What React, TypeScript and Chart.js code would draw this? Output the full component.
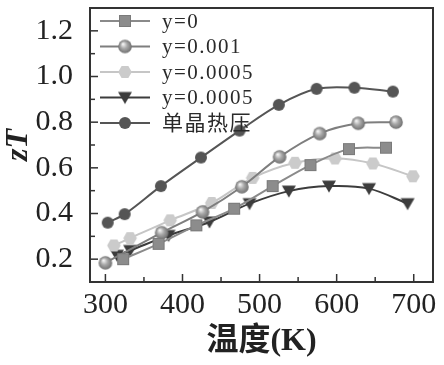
import React, { useEffect, useRef } from "react";
import { Chart, registerables } from "chart.js";

Chart.register(...registerables);

const seriesNames = ["y=0", "y=0.001", "y=0.0005", "y=0.0005", "单晶热压"];

const tempY0 = [323, 369, 418, 467, 517, 566, 616, 664];
const ztY0 = [0.2, 0.267, 0.348, 0.421, 0.52, 0.612, 0.682, 0.688];

const tempY001 = [300, 373, 426, 477, 526, 578, 628, 677];
const ztY001 = [0.184, 0.316, 0.407, 0.517, 0.648, 0.75, 0.795, 0.8];

const tempY0005a = [311, 332, 384, 438, 491, 546, 598, 647, 699];
const ztY0005a = [0.26, 0.292, 0.37, 0.446, 0.556, 0.622, 0.641, 0.619, 0.563];

const tempY0005b = [315, 332, 382, 435, 487, 538, 590, 642, 692];
const ztY0005b = [0.217, 0.238, 0.304, 0.363, 0.443, 0.498, 0.52, 0.509, 0.443];

const tempSingle = [303, 325, 372, 424, 474, 525, 574, 623, 673];
const ztSingle = [0.36, 0.397, 0.52, 0.645, 0.763, 0.876, 0.946, 0.951, 0.934];

const xTicks = [300, 400, 500, 600, 700];
const xMinorTicks = [350, 450, 550, 650];
const yTicks = [0.2, 0.4, 0.6, 0.8, 1.0, 1.2];
const yMinorTicks = [0.3, 0.5, 0.7, 0.9, 1.1];

function makeCanvas(size: number, draw: (ctx: CanvasRenderingContext2D, c: number) => void) {
  const cv = document.createElement("canvas");
  cv.width = size;
  cv.height = size;
  const ctx = cv.getContext("2d")!;
  draw(ctx, size / 2);
  return cv;
}

function buildMarkers() {
  const square = makeCanvas(14, (ctx, c) => {
    ctx.fillStyle = "#8c8c8c";
    ctx.strokeStyle = "#7a7a7a";
    ctx.lineWidth = 1;
    ctx.fillRect(c - 5.5, c - 5.5, 11, 11);
    ctx.strokeRect(c - 5.5, c - 5.5, 11, 11);
  });
  const sphere = makeCanvas(16, (ctx, c) => {
    const g = ctx.createRadialGradient(c - 2, c - 2.5, 0.5, c, c, 7);
    g.addColorStop(0, "#f2f2f2");
    g.addColorStop(0.45, "#a8a8a8");
    g.addColorStop(1, "#6e6e6e");
    ctx.fillStyle = g;
    ctx.beginPath();
    ctx.arc(c, c, 6.8, 0, Math.PI * 2);
    ctx.fill();
  });
  const hexagon = makeCanvas(16, (ctx, c) => {
    ctx.fillStyle = "#cbcbcb";
    ctx.beginPath();
    for (let i = 0; i < 6; i++) {
      const a = (Math.PI / 3) * i;
      const px = c + 6.8 * Math.cos(a);
      const py = c + 6.8 * Math.sin(a);
      if (i === 0) ctx.moveTo(px, py);
      else ctx.lineTo(px, py);
    }
    ctx.closePath();
    ctx.fill();
  });
  const triangle = makeCanvas(16, (ctx, c) => {
    ctx.fillStyle = "#3c3c3c";
    ctx.beginPath();
    ctx.moveTo(c - 7, c - 5.5);
    ctx.lineTo(c + 7, c - 5.5);
    ctx.lineTo(c, c + 6.5);
    ctx.closePath();
    ctx.fill();
  });
  const circle = makeCanvas(14, (ctx, c) => {
    ctx.fillStyle = "#555555";
    ctx.beginPath();
    ctx.arc(c, c, 6, 0, Math.PI * 2);
    ctx.fill();
  });
  return [square, sphere, hexagon, triangle, circle];
}

function pts(xs: number[], ys: number[]) {
  return xs.map((x, i) => ({ x, y: ys[i] }));
}

export default function App() {
  const ref = useRef<HTMLCanvasElement | null>(null);

  useEffect(() => {
    if (!ref.current) return;
    const markers = buildMarkers();
    const lineColors = ["#8a8a8a", "#7e7e7e", "#c6c6c6", "#3c3c3c", "#555555"];
    const data = [
      pts(tempY0, ztY0),
      pts(tempY001, ztY001),
      pts(tempY0005a, ztY0005a),
      pts(tempY0005b, ztY0005b),
      pts(tempSingle, ztSingle),
    ];

    const frameAndTicks = {
      id: "frameAndTicks",
      afterDraw(chart: any) {
        const ctx: CanvasRenderingContext2D = chart.ctx;
        const xs = chart.scales.x;
        const ys = chart.scales.y;
        const left = Math.round(xs.left);
        const right = Math.round(xs.right);
        const top = Math.round(ys.top);
        const bottom = Math.round(ys.bottom);
        ctx.save();
        ctx.fillStyle = "#333333";
        // frame
        ctx.fillRect(left - 1, top - 1, right - left + 2, 2);
        ctx.fillRect(left - 1, bottom - 1, right - left + 2, 2);
        ctx.fillRect(left - 1, top - 1, 2, bottom - top + 2);
        ctx.fillRect(right - 1, top - 1, 2, bottom - top + 2);
        // inward ticks
        const tw = 1.5;
        xTicks.forEach((v) => {
          const px = xs.getPixelForValue(v);
          ctx.fillRect(px - tw / 2, bottom - 8, tw, 8);
        });
        xMinorTicks.forEach((v) => {
          const px = xs.getPixelForValue(v);
          ctx.fillRect(px - tw / 2, bottom - 5, tw, 5);
        });
        yTicks.forEach((v) => {
          const py = ys.getPixelForValue(v);
          ctx.fillRect(left, py - tw / 2, 8, tw);
        });
        yMinorTicks.forEach((v) => {
          const py = ys.getPixelForValue(v);
          ctx.fillRect(left, py - tw / 2, 5, tw);
        });

        // legend
        ctx.font = "21px 'Liberation Serif', 'Noto Sans CJK SC', serif";
        ctx.textBaseline = "middle";
        ctx.textAlign = "left";
        (ctx as any).letterSpacing = "1.5px";
        seriesNames.forEach((name, i) => {
          const y = 21 + i * 25.5;
          ctx.fillStyle = lineColors[i];
          ctx.fillRect(100, y - 1, 50, 2);
          const m = markers[i];
          ctx.drawImage(m, 125 - m.width / 2, y - m.height / 2);
          ctx.fillStyle = "#2a2a2a";
          ctx.fillText(name, 162, y + 1);
        });
        (ctx as any).letterSpacing = "0px";
        ctx.restore();
      },
    };

    const chart = new Chart(ref.current, {
      type: "line",
      data: {
        datasets: data.map((d, i) => ({
          label: seriesNames[i],
          data: d,
          borderColor: lineColors[i],
          backgroundColor: lineColors[i],
          borderWidth: 2,
          pointStyle: markers[i] as any,
          pointRadius: 6,
          tension: 0.35,
          fill: false,
        })),
      },
      options: {
        animation: false,
        responsive: false,
        events: [],
        layout: { padding: { left: 0, top: 6, right: 11, bottom: 0 } },
        plugins: {
          legend: { display: false },
          tooltip: { enabled: false },
        },
        scales: {
          x: {
            type: "linear",
            min: 280,
            max: 725,
            afterBuildTicks: (s: any) => {
              s.ticks = xTicks.map((v) => ({ value: v }));
            },
            afterFit: (s: any) => {
              s.height = 83;
              s.paddingLeft = 0;
              s.paddingRight = 0;
            },
            grid: { display: false },
            border: { display: false },
            ticks: {
              padding: -3,
              color: "#222",
              font: { family: "'Liberation Serif', serif", size: 30 },
              maxRotation: 0,
            },
            title: {
              display: true,
              text: "温度(K)",
              color: "#222",
              font: { family: "'Liberation Serif', 'Noto Sans CJK SC', serif", size: 32, weight: "bold" },
              padding: { top: 0, bottom: 4 },
            },
          },
          y: {
            type: "linear",
            min: 0.1,
            max: 1.3,
            afterBuildTicks: (s: any) => {
              s.ticks = yTicks.map((v) => ({ value: v }));
            },
            afterFit: (s: any) => {
              s.width = 90;
              s.paddingTop = 0;
              s.paddingBottom = 0;
            },
            grid: { display: false },
            border: { display: false },
            ticks: {
              padding: 9,
              color: "#222",
              font: { family: "'Liberation Serif', serif", size: 30 },
              callback: (v: any) => Number(v).toFixed(1),
            },
            title: {
              display: true,
              text: "zT",
              color: "#222",
              font: { family: "'Liberation Serif', serif", size: 32, weight: "bold", style: "italic" },
              padding: { top: 0, bottom: 0 },
            },
          },
        },
      },
      plugins: [frameAndTicks],
    } as any);
    return () => chart.destroy();
  }, []);

  return (
    <div style={{ position: "fixed", left: 0, top: 0, width: 444, height: 365, background: "#fff" }}>
      <canvas ref={ref} width={444} height={365} style={{ width: 444, height: 365 }} />
    </div>
  );
}
